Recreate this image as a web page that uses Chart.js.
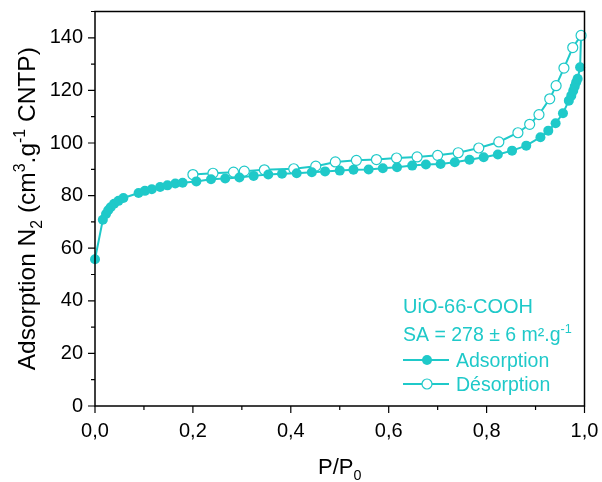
<!DOCTYPE html>
<html>
<head>
<meta charset="utf-8">
<script src="https://cdn.jsdelivr.net/npm/chart.js@4.4.1/dist/chart.umd.min.js"></script>
<style>
  body { margin: 0; background: #fff; }
  #chart { display: block; }
</style>
</head>
<body>
<canvas id="chart" width="602" height="482"></canvas>
<script>
// isotherm data (P/P0 -> cm3/g)
const adsP = [0.000, 0.016, 0.0225, 0.027, 0.032, 0.039, 0.048, 0.058, 0.089, 0.102,
              0.116, 0.133, 0.148, 0.164, 0.179, 0.207, 0.237, 0.266, 0.295, 0.324,
              0.354, 0.382, 0.412, 0.443, 0.470, 0.500, 0.528, 0.559, 0.588, 0.617,
              0.648, 0.676, 0.706, 0.735, 0.765, 0.794, 0.823, 0.852, 0.881, 0.910,
              0.926, 0.941, 0.956, 0.968, 0.973, 0.977, 0.980, 0.983, 0.986, 0.991];
const adsN = [55.8, 70.8, 73.0, 74.4, 75.6, 76.9, 78.0, 79.1, 81.0, 81.8,
              82.4, 83.3, 83.9, 84.6, 84.9, 85.4, 86.2, 86.5, 86.9, 87.5,
              88.0, 88.3, 88.5, 88.9, 89.2, 89.5, 89.8, 89.9, 90.4, 90.8,
              91.4, 91.8, 92.0, 92.7, 93.6, 94.6, 95.6, 97.1, 99.0, 102.2,
              104.7, 107.5, 111.3, 116.1, 118.0, 119.9, 121.5, 123.1, 124.4, 128.8];
// desorption branch starts from the last adsorption point (no marker there)
const desP = [0.991, 0.993, 0.976, 0.958, 0.942, 0.929, 0.907, 0.888, 0.864, 0.825,
              0.784, 0.742, 0.700, 0.658, 0.616, 0.575, 0.534, 0.491, 0.451, 0.406,
              0.346, 0.305, 0.283, 0.241, 0.200];
const desN = [128.8, 140.9, 136.3, 128.5, 121.8, 116.8, 110.8, 107.1, 103.9, 100.4,
              98.1, 96.3, 95.3, 94.7, 94.3, 93.7, 93.4, 92.8, 91.2, 90.2,
              89.8, 89.3, 88.9, 88.5, 88.0];

const xTicks = [0, 0.2, 0.4, 0.6, 0.8, 1.0];
const xMinor = [0.1, 0.3, 0.5, 0.7, 0.9];
const yTicks = [0, 20, 40, 60, 80, 100, 120, 140];
const yMinor = [10, 30, 50, 70, 90, 110, 130, 150];

const sampleName = 'UiO-66-COOH';
const surfaceText = 'SA = 278 ± 6 m².g';
const seriesNames = ['Adsorption', 'Désorption'];

const FONT = "'Liberation Sans', Arial, sans-serif";
const TEAL = '#1fc9c9';

function toPoints(xs, ys) {
    return xs.map((x, i) => ({ x: x, y: ys[i] }));
}

// draw text made of normal / sub / sup pieces
function drawRich(ctx, parts, x, y, size, align) {
    const widths = parts.map(([t, m]) => {
        ctx.font = (m ? size * 0.65 : size) + 'px ' + FONT;
        return ctx.measureText(t).width;
    });
    const total = widths.reduce((a, b) => a + b, 0);
    let cx = align === 'center' ? x - total / 2 : x;
    ctx.textAlign = 'left';
    ctx.textBaseline = 'alphabetic';
    parts.forEach(([t, m], i) => {
        ctx.font = (m ? size * 0.65 : size) + 'px ' + FONT;
        let dy = 0;
        if (m === 'sub') dy = size * 0.27;
        if (m === 'sup') dy = -size * 0.42;
        ctx.fillText(t, cx, y + dy);
        cx += widths[i];
    });
}

const decor = {
    id: 'decor',
    afterDraw(chart) {
        const ctx = chart.ctx;
        const { left, right, top, bottom } = chart.chartArea;
        const xs = chart.scales.x, ys = chart.scales.y;
        ctx.save();

        // frame
        ctx.strokeStyle = '#000';
        ctx.lineWidth = 1.5;
        ctx.strokeRect(left, top, right - left, bottom - top);

        // tick marks
        ctx.lineWidth = 1.2;
        ctx.beginPath();
        xTicks.forEach(v => { const p = xs.getPixelForValue(v); ctx.moveTo(p, bottom); ctx.lineTo(p, bottom + 7); });
        xMinor.forEach(v => { const p = xs.getPixelForValue(v); ctx.moveTo(p, bottom); ctx.lineTo(p, bottom + 4); });
        yTicks.forEach(v => { const p = ys.getPixelForValue(v); ctx.moveTo(left, p); ctx.lineTo(left - 7, p); });
        yMinor.forEach(v => { const p = ys.getPixelForValue(v); ctx.moveTo(left, p); ctx.lineTo(left - 4, p); });
        ctx.stroke();

        // axis titles
        ctx.fillStyle = '#000';
        drawRich(ctx, [['P/P', ''], ['0', 'sub']], (left + right) / 2, 474, 22, 'center');

        ctx.save();
        ctx.translate(35, (top + bottom) / 2);
        ctx.rotate(-Math.PI / 2);
        drawRich(ctx, [['Adsorption N', ''], ['2', 'sub'], [' (cm', ''], ['3', 'sup'],
                       ['.g', ''], ['-1', 'sup'], [' CNTP)', '']], 0, 0, 24.5, 'center');
        ctx.restore();

        // legend block
        ctx.fillStyle = TEAL;
        drawRich(ctx, [[sampleName, '']], 403, 313, 20, 'left');
        drawRich(ctx, [[surfaceText, ''], ['-1', 'sup']], 403, 341, 19.5, 'left');
        drawRich(ctx, [[seriesNames[0], '']], 456, 367, 19.5, 'left');
        drawRich(ctx, [[seriesNames[1], '']], 456, 391, 19.5, 'left');

        ctx.strokeStyle = TEAL;
        ctx.lineWidth = 2;
        ctx.beginPath();
        ctx.moveTo(403, 360); ctx.lineTo(449, 360);
        ctx.moveTo(403, 384); ctx.lineTo(449, 384);
        ctx.stroke();
        ctx.beginPath();
        ctx.arc(427, 360, 5, 0, Math.PI * 2);
        ctx.fillStyle = TEAL;
        ctx.fill();
        ctx.beginPath();
        ctx.arc(427, 384, 5, 0, Math.PI * 2);
        ctx.fillStyle = '#fff';
        ctx.fill();
        ctx.lineWidth = 1.2;
        ctx.stroke();

        ctx.restore();
    }
};

const ctx = document.getElementById('chart').getContext('2d');
new Chart(ctx, {
    type: 'line',
    data: {
        datasets: [
            {
                label: seriesNames[0],
                data: toPoints(adsP, adsN),
                borderColor: TEAL,
                backgroundColor: TEAL,
                borderWidth: 2,
                pointRadius: 5,
                pointBorderWidth: 0,
                pointBackgroundColor: TEAL,
                tension: 0,
                clip: false
            },
            {
                label: seriesNames[1],
                data: toPoints(desP, desN),
                borderColor: TEAL,
                backgroundColor: '#fff',
                borderWidth: 2,
                pointRadius: desP.map((_, i) => i === 0 ? 0 : 5),
                pointBorderWidth: 1.2,
                pointBorderColor: TEAL,
                pointBackgroundColor: '#fff',
                tension: 0,
                clip: false
            }
        ]
    },
    options: {
        responsive: false,
        animation: false,
        devicePixelRatio: 1,
        layout: { padding: { top: 11.5, right: 17.5, left: 0, bottom: 0 } },
        plugins: { legend: { display: false }, tooltip: { enabled: false } },
        scales: {
            x: {
                type: 'linear',
                min: 0,
                max: 1,
                grid: { display: false, drawTicks: false },
                border: { display: false },
                afterBuildTicks: s => { s.ticks = xTicks.map(v => ({ value: v })); },
                afterFit: s => {
                    s.height = 76;
                    s.paddingLeft = 0;
                    s.paddingRight = 0;
                },
                ticks: {
                    padding: 13,
                    color: '#000',
                    font: { family: FONT, size: 20 },
                    maxRotation: 0,
                    callback: v => v.toFixed(1).replace('.', ',')
                }
            },
            y: {
                min: 0,
                max: 150,
                grid: { display: false, drawTicks: false },
                border: { display: false },
                afterBuildTicks: s => { s.ticks = yTicks.map(v => ({ value: v })); },
                afterFit: s => {
                    s.width = 95;
                    s.paddingTop = 0;
                    s.paddingBottom = 0;
                },
                ticks: {
                    padding: 12,
                    color: '#000',
                    font: { family: FONT, size: 20 },
                    callback: v => String(v)
                }
            }
        }
    },
    plugins: [decor]
});
</script>
</body>
</html>
